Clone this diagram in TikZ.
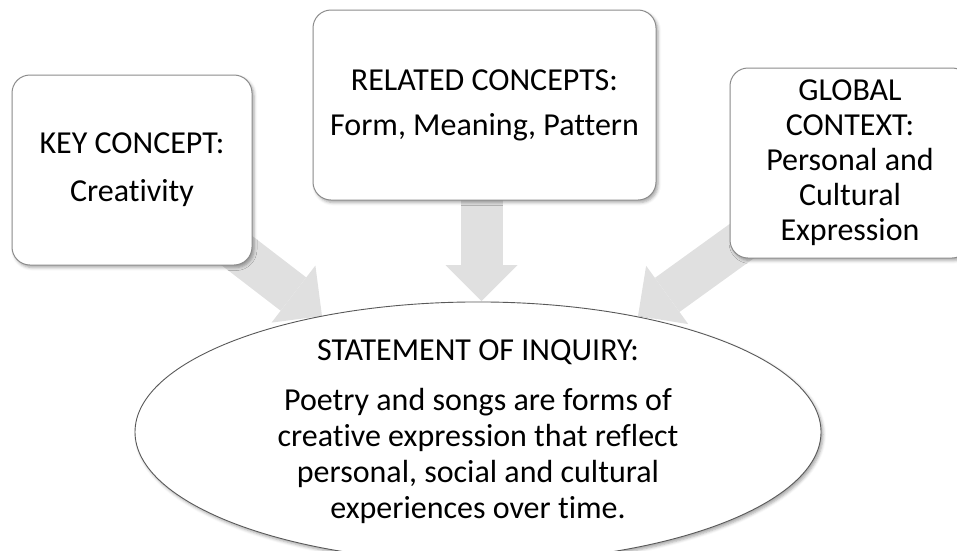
\documentclass[tikz,border=0pt]{standalone}
\usepackage{fontspec}
\setmainfont{Carlito}[Ligatures=NoCommon]
\usetikzlibrary{arrows.meta, positioning, shapes.geometric, shadows.blur, backgrounds}

\definecolor{framegray}{HTML}{8C8C8C}
\definecolor{arrowgray}{HTML}{E0E0E0}

\begin{document}
\begin{tikzpicture}[
    x=1pt, y=-1pt, % 1pt = 1 pixel, y grows downwards
    every node/.style={font=\fontsize{32}{36}\selectfont, align=center, inner sep=0pt}, % common text
    softshadow/.style={blur shadow={shadow xshift=2pt, shadow yshift=-2.5pt, shadow blur radius=3pt, shadow opacity=35}},
    conceptbox/.style={draw=framegray, line width=1pt, fill=white, rounded corners=18pt,
        minimum height=190pt, softshadow}, % the three concept boxes
    inquiry/.style={ellipse, draw=black!65, line width=0.9pt, fill=white,
        minimum width=686pt, minimum height=236pt, softshadow}, % statement ellipse
    bigarrow/.style={line width=42pt, draw=arrowgray,
        -{Triangle[width=72pt, length=36pt, line width=0pt]}} % wide grey block arrows
]
    \useasboundingbox (0,0) rectangle (957,550);

    % 1. concept boxes along the top
    \node[conceptbox, minimum width=240pt] (key) at (132,170) {KEY CONCEPT:\\[12pt]Creativity};
    \node[conceptbox, minimum width=343pt] (related) at (484.5,105) {RELATED CONCEPTS:\\[9pt]Form, Meaning, Pattern};
    \node[conceptbox, minimum width=240pt, font=\fontsize{32}{35}\selectfont] (global) at (850,163)
        {GLOBAL\\CONTEXT:\\Personal and\\Cultural\\Expression};

    % 2. statement of inquiry
    \node[inquiry] (soi) at (478,432) {STATEMENT OF INQUIRY:\\[14pt]Poetry and songs are forms of\\creative expression that reflect\\personal, social and cultural\\experiences over time.};

    % 3. arrow tips just above the ellipse
    \coordinate (keytip) at (322,316);
    \coordinate (reltip) at (481.5,301);
    \coordinate (globtip) at (638,316);

    % 4. block arrows behind the boxes
    \begin{scope}[on background layer]
        \draw[bigarrow] (key.center) -- (keytip);
        \draw[bigarrow] (related.center -| reltip) -- (reltip);
        \draw[bigarrow] (global.center) -- (globtip);
    \end{scope}
\end{tikzpicture}
\end{document}
